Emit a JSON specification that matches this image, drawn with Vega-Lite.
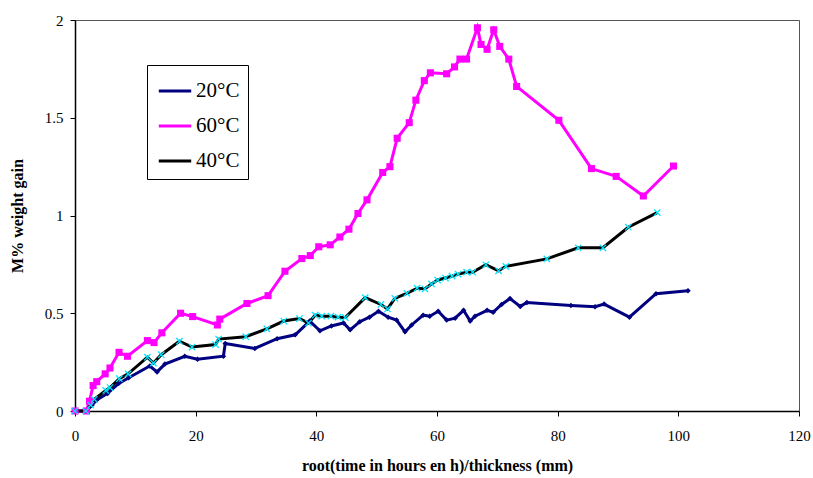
{
  "$schema": "https://vega.github.io/schema/vega-lite/v6.json",
  "width": 724,
  "height": 391,
  "autosize": {"type": "none"},
  "padding": {"left": 75, "top": 20, "right": 14, "bottom": 67},
  "background": "white",
  "config": {
    "view": {"stroke": "#555555", "strokeWidth": 1},
    "font": "Liberation Serif",
    "axis": {
      "labelFont": "Liberation Serif",
      "titleFont": "Liberation Serif",
      "labelFontSize": 15,
      "titleFontSize": 16,
      "titleFontWeight": "bold",
      "labelColor": "black",
      "titleColor": "black",
      "domainColor": "black",
      "tickColor": "black",
      "domainWidth": 1.5,
      "tickWidth": 1,
      "tickSize": 5,
      "labelFlush": false,
      "grid": false
    }
  },
  "data": {
    "values": [
      {"s": "20°C", "x": 0, "y": 0},
      {"s": "20°C", "x": 1.9, "y": 0},
      {"s": "20°C", "x": 2.8, "y": 0.03},
      {"s": "20°C", "x": 3.6, "y": 0.056},
      {"s": "20°C", "x": 5.4, "y": 0.09},
      {"s": "20°C", "x": 7.2, "y": 0.14},
      {"s": "20°C", "x": 8.9, "y": 0.17},
      {"s": "20°C", "x": 12.4, "y": 0.23},
      {"s": "20°C", "x": 13.6, "y": 0.2},
      {"s": "20°C", "x": 14.9, "y": 0.24},
      {"s": "20°C", "x": 18.2, "y": 0.28},
      {"s": "20°C", "x": 20.3, "y": 0.265},
      {"s": "20°C", "x": 24.6, "y": 0.28},
      {"s": "20°C", "x": 24.9, "y": 0.345},
      {"s": "20°C", "x": 29.8, "y": 0.32},
      {"s": "20°C", "x": 33.5, "y": 0.37},
      {"s": "20°C", "x": 36.5, "y": 0.39},
      {"s": "20°C", "x": 38.9, "y": 0.46},
      {"s": "20°C", "x": 40.6, "y": 0.41},
      {"s": "20°C", "x": 42.5, "y": 0.435},
      {"s": "20°C", "x": 44.5, "y": 0.45},
      {"s": "20°C", "x": 45.6, "y": 0.415},
      {"s": "20°C", "x": 47.2, "y": 0.457},
      {"s": "20°C", "x": 48.8, "y": 0.48},
      {"s": "20°C", "x": 50.3, "y": 0.51},
      {"s": "20°C", "x": 51.9, "y": 0.48},
      {"s": "20°C", "x": 53.3, "y": 0.465},
      {"s": "20°C", "x": 54.7, "y": 0.405},
      {"s": "20°C", "x": 55.8, "y": 0.44},
      {"s": "20°C", "x": 57.7, "y": 0.49},
      {"s": "20°C", "x": 58.8, "y": 0.485},
      {"s": "20°C", "x": 60.2, "y": 0.51},
      {"s": "20°C", "x": 61.6, "y": 0.465},
      {"s": "20°C", "x": 63.0, "y": 0.475},
      {"s": "20°C", "x": 64.4, "y": 0.515},
      {"s": "20°C", "x": 65.5, "y": 0.46},
      {"s": "20°C", "x": 66.3, "y": 0.485},
      {"s": "20°C", "x": 68.3, "y": 0.515},
      {"s": "20°C", "x": 69.3, "y": 0.505},
      {"s": "20°C", "x": 70.7, "y": 0.545},
      {"s": "20°C", "x": 72.1, "y": 0.575},
      {"s": "20°C", "x": 73.8, "y": 0.535},
      {"s": "20°C", "x": 74.9, "y": 0.555},
      {"s": "20°C", "x": 82.2, "y": 0.54},
      {"s": "20°C", "x": 86.2, "y": 0.533},
      {"s": "20°C", "x": 87.7, "y": 0.547},
      {"s": "20°C", "x": 91.9, "y": 0.48},
      {"s": "20°C", "x": 96.3, "y": 0.6},
      {"s": "20°C", "x": 101.6, "y": 0.615},
      {"s": "60°C", "x": 0, "y": 0},
      {"s": "60°C", "x": 1.9, "y": 0},
      {"s": "60°C", "x": 2.4, "y": 0.05},
      {"s": "60°C", "x": 3.0, "y": 0.13},
      {"s": "60°C", "x": 3.6, "y": 0.15},
      {"s": "60°C", "x": 5.0, "y": 0.19},
      {"s": "60°C", "x": 5.8, "y": 0.22},
      {"s": "60°C", "x": 7.3, "y": 0.3},
      {"s": "60°C", "x": 8.7, "y": 0.28},
      {"s": "60°C", "x": 12.0, "y": 0.36},
      {"s": "60°C", "x": 13.1, "y": 0.35},
      {"s": "60°C", "x": 14.4, "y": 0.4},
      {"s": "60°C", "x": 17.5, "y": 0.5},
      {"s": "60°C", "x": 19.5, "y": 0.483},
      {"s": "60°C", "x": 23.6, "y": 0.44},
      {"s": "60°C", "x": 24.0, "y": 0.47},
      {"s": "60°C", "x": 28.5, "y": 0.55},
      {"s": "60°C", "x": 32.0, "y": 0.59},
      {"s": "60°C", "x": 34.8, "y": 0.715},
      {"s": "60°C", "x": 37.6, "y": 0.78},
      {"s": "60°C", "x": 39.0, "y": 0.795},
      {"s": "60°C", "x": 40.4, "y": 0.84},
      {"s": "60°C", "x": 42.3, "y": 0.85},
      {"s": "60°C", "x": 43.9, "y": 0.89},
      {"s": "60°C", "x": 45.4, "y": 0.93},
      {"s": "60°C", "x": 46.9, "y": 1.01},
      {"s": "60°C", "x": 48.4, "y": 1.08},
      {"s": "60°C", "x": 51.0, "y": 1.22},
      {"s": "60°C", "x": 52.2, "y": 1.25},
      {"s": "60°C", "x": 53.4, "y": 1.395},
      {"s": "60°C", "x": 55.4, "y": 1.475},
      {"s": "60°C", "x": 56.5, "y": 1.59},
      {"s": "60°C", "x": 57.9, "y": 1.69},
      {"s": "60°C", "x": 58.9, "y": 1.73},
      {"s": "60°C", "x": 61.6, "y": 1.725},
      {"s": "60°C", "x": 62.9, "y": 1.76},
      {"s": "60°C", "x": 63.8, "y": 1.8},
      {"s": "60°C", "x": 64.9, "y": 1.8},
      {"s": "60°C", "x": 66.7, "y": 1.96},
      {"s": "60°C", "x": 67.3, "y": 1.875},
      {"s": "60°C", "x": 68.3, "y": 1.85},
      {"s": "60°C", "x": 69.4, "y": 1.95},
      {"s": "60°C", "x": 70.4, "y": 1.865},
      {"s": "60°C", "x": 71.9, "y": 1.8},
      {"s": "60°C", "x": 73.2, "y": 1.66},
      {"s": "60°C", "x": 80.2, "y": 1.487},
      {"s": "60°C", "x": 85.6, "y": 1.24},
      {"s": "60°C", "x": 89.7, "y": 1.2},
      {"s": "60°C", "x": 94.2, "y": 1.1},
      {"s": "60°C", "x": 99.2, "y": 1.253},
      {"s": "40°C", "x": 0, "y": 0},
      {"s": "40°C", "x": 1.8, "y": 0},
      {"s": "40°C", "x": 2.6, "y": 0.03},
      {"s": "40°C", "x": 3.2, "y": 0.06},
      {"s": "40°C", "x": 5.1, "y": 0.105},
      {"s": "40°C", "x": 5.8, "y": 0.12},
      {"s": "40°C", "x": 7.35, "y": 0.165},
      {"s": "40°C", "x": 8.8, "y": 0.19},
      {"s": "40°C", "x": 12.0, "y": 0.275},
      {"s": "40°C", "x": 13.0, "y": 0.245},
      {"s": "40°C", "x": 14.3, "y": 0.288},
      {"s": "40°C", "x": 17.3, "y": 0.357},
      {"s": "40°C", "x": 19.4, "y": 0.327},
      {"s": "40°C", "x": 23.3, "y": 0.34},
      {"s": "40°C", "x": 23.8, "y": 0.368},
      {"s": "40°C", "x": 28.3, "y": 0.38},
      {"s": "40°C", "x": 31.8, "y": 0.42},
      {"s": "40°C", "x": 34.6, "y": 0.46},
      {"s": "40°C", "x": 37.2, "y": 0.473},
      {"s": "40°C", "x": 38.7, "y": 0.45},
      {"s": "40°C", "x": 39.8, "y": 0.49},
      {"s": "40°C", "x": 40.9, "y": 0.485},
      {"s": "40°C", "x": 42.4, "y": 0.485},
      {"s": "40°C", "x": 43.6, "y": 0.48},
      {"s": "40°C", "x": 44.8, "y": 0.478},
      {"s": "40°C", "x": 48.1, "y": 0.58},
      {"s": "40°C", "x": 50.7, "y": 0.545},
      {"s": "40°C", "x": 51.8, "y": 0.522},
      {"s": "40°C", "x": 53.0, "y": 0.576},
      {"s": "40°C", "x": 55.0, "y": 0.602},
      {"s": "40°C", "x": 56.7, "y": 0.628},
      {"s": "40°C", "x": 58.0, "y": 0.625},
      {"s": "40°C", "x": 59.1, "y": 0.65},
      {"s": "40°C", "x": 60.1, "y": 0.67},
      {"s": "40°C", "x": 61.4, "y": 0.68},
      {"s": "40°C", "x": 62.5, "y": 0.69},
      {"s": "40°C", "x": 63.5, "y": 0.7},
      {"s": "40°C", "x": 64.9, "y": 0.71},
      {"s": "40°C", "x": 65.9, "y": 0.71},
      {"s": "40°C", "x": 68.1, "y": 0.748},
      {"s": "40°C", "x": 70.2, "y": 0.717},
      {"s": "40°C", "x": 71.4, "y": 0.74},
      {"s": "40°C", "x": 78.2, "y": 0.778},
      {"s": "40°C", "x": 83.4, "y": 0.835},
      {"s": "40°C", "x": 87.5, "y": 0.835},
      {"s": "40°C", "x": 91.7, "y": 0.94},
      {"s": "40°C", "x": 96.5, "y": 1.015}
    ]
  },
  "encoding": {
    "x": {
      "field": "x", "type": "quantitative",
      "scale": {"domain": [0, 120], "nice": false},
      "axis": {"values": [0, 20, 40, 60, 80, 100, 120], "labelPadding": 12, "title": "root(time in hours en h)/thickness (mm)", "titlePadding": 14}
    },
    "y": {
      "field": "y", "type": "quantitative",
      "scale": {"domain": [0, 2], "nice": false},
      "axis": {"values": [0, 0.5, 1, 1.5, 2], "format": "~g", "labelPadding": 7, "title": "M% weight gain", "titlePadding": 19}
    }
  },
  "layer": [
    {
      "mark": {"type": "line", "strokeWidth": 3},
      "encoding": {
        "color": {
          "field": "s", "type": "nominal",
          "scale": {"domain": ["20°C", "60°C", "40°C"], "range": ["#000080", "#FF00FF", "#000000"]},
          "legend": {
            "title": null,
            "orient": "none",
            "legendX": 72,
            "legendY": 45,
            "symbolType": "stroke",
            "symbolSize": 1050,
            "symbolStrokeWidth": 3,
            "symbolOffset": 2,
            "labelFont": "Liberation Serif",
            "labelFontSize": 21,
            "labelColor": "black",
            "rowPadding": 7,
            "padding": 8,
            "strokeColor": "black",
            "fillColor": "white",
            "labelOffset": 3
          }
        }
      }
    },
    {
      "transform": [{"filter": "datum.s === '20°C'"}],
      "mark": {"type": "point", "shape": "diamond", "filled": true, "color": "#000080", "size": 30, "opacity": 1}
    },
    {
      "transform": [{"filter": "datum.s === '60°C'"}],
      "mark": {"type": "point", "shape": "square", "filled": true, "color": "#FF00FF", "size": 50, "opacity": 1}
    },
    {
      "transform": [{"filter": "datum.s === '40°C'"}],
      "mark": {"type": "point", "shape": "M-1,-1L1,1M-1,1L1,-1", "filled": false, "stroke": "#00E5FF", "strokeWidth": 1.3, "size": 40, "opacity": 1}
    }
  ]
}
